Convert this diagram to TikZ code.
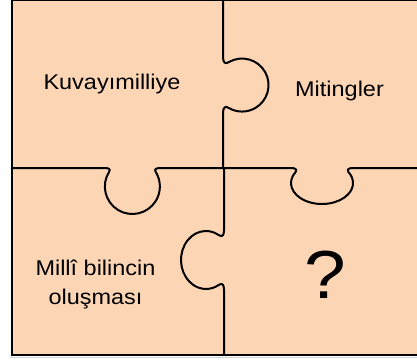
\documentclass[tikz,border=0pt]{standalone}
\usepackage{fontspec}
\setmainfont{Liberation Sans}[FakeStretch=1.1]
\definecolor{peach}{HTML}{FCD5B5}
\begin{document}
\begin{tikzpicture}[x=0.75pt,y=-0.75pt,
  cut/.style={line width=1.5pt, line join=round, line cap=round},
  lbl/.style={inner sep=0pt, anchor=base, font=\fontsize{16}{19}\selectfont}]
\useasboundingbox (0,0) rectangle (417,360);
\fill[peach] (11.5,0) rectangle (418,355);
\draw[gray!35, line width=0.6pt] (10,357.5) -- (417,357.5);
\draw[line width=1.5pt] (418,0) -- (11.5,0) -- (11.5,355) -- (418,355);
% vertical cut, top half, tab to the right
\draw[cut] (223,0) -- (223,57)
  .. controls (223,63) and (225.5,64.5) .. (229,62)
  arc[start angle=-119.5, end angle=119.5, radius=26.5]
  .. controls (225.5,105.5) and (223,107) .. (223,113) -- (223,168);
% horizontal cut, left half, tab downward
\draw[cut] (11.5,168) -- (104,168)
  .. controls (109,168) and (111,169) .. (109,172)
  arc[start angle=211.8, end angle=-31.8, radius=27.5]
  .. controls (154,169) and (156,168) .. (161,168) -- (223,168);
% horizontal cut, right half, tab downward
\draw[cut] (223,168) -- (290,168)
  .. controls (295,168) and (297.5,169) .. (295.6,172)
  arc[start angle=211.6, end angle=-31.6, x radius=31, y radius=21]
  .. controls (346.5,169) and (349,168) .. (354,168) -- (418,168);
% vertical cut, bottom half, tab to the left
\draw[cut] (224,168) -- (224,230)
  .. controls (224,236) and (222,237) .. (219,235.2)
  arc[start angle=-58.7, end angle=-301.3, x radius=25, y radius=29]
  .. controls (222,283) and (224,284) .. (224,290) -- (224,355);
\node[lbl] (kuva) at (112,89.3) {Kuvayımilliye};
\node[lbl] (miting) at (339.5,96.7) {Mitingler};
\node[lbl] (milli1) at (95.5,275) {Millî bilincin};
\node[lbl] (milli2) at (95.5,304) {oluşması};
\node[inner sep=0pt, anchor=base, font=\fontsize{51}{60}\selectfont] (soru) at (325,298) {?};
\end{tikzpicture}
\end{document}
